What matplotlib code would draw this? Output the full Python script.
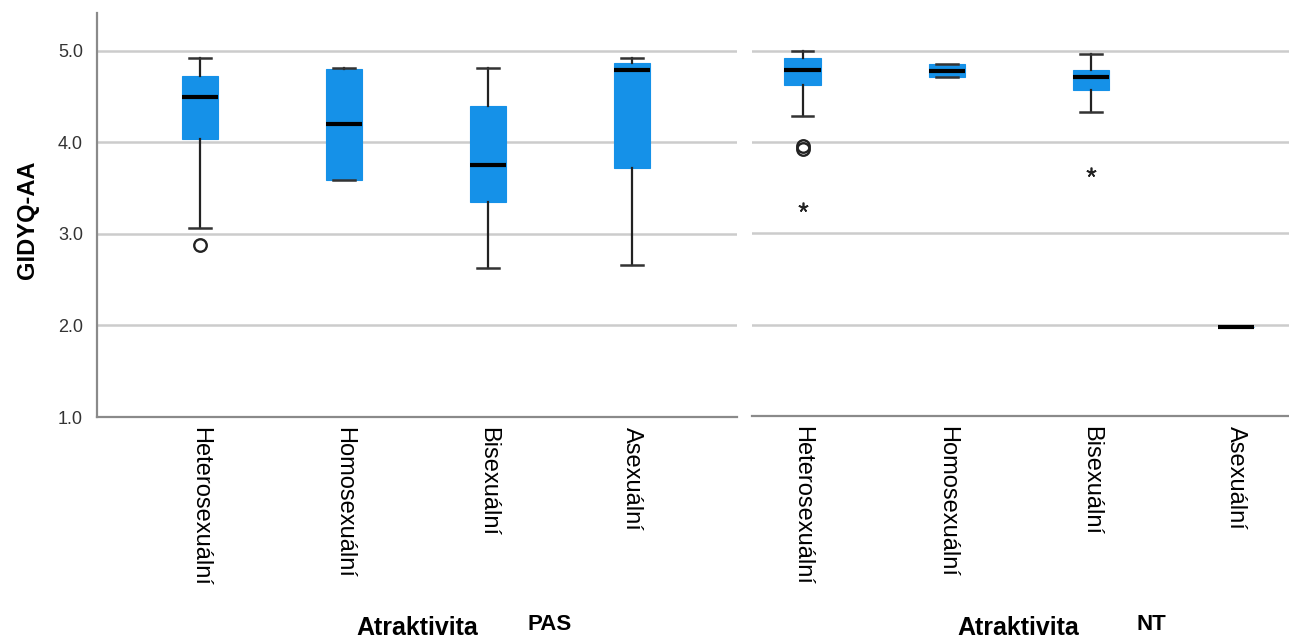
import matplotlib
matplotlib.use("Agg")
import matplotlib.pyplot as plt

# kategorie a hodnoty
categories = ["Heterosexuální", "Homosexuální", "Bisexuální", "Asexuální"]

# PAS (levý panel)
pas_whislo = [3.07, 3.59, 2.63, 2.66]
pas_q1 = [4.04, 3.59, 3.35, 3.72]
pas_med = [4.50, 4.20, 3.75, 4.79]
pas_q3 = [4.73, 4.80, 4.40, 4.87]
pas_whishi = [4.92, 4.81, 4.81, 4.92]
pas_out_circle = [[2.88], [], [], []]
pas_out_star = [[], [], [], []]

# NT (pravý panel)
nt_whislo = [4.29, 4.71, 4.33, 1.97]
nt_q1 = [4.63, 4.71, 4.57, 1.97]
nt_med = [4.79, 4.78, 4.71, 1.97]
nt_q3 = [4.92, 4.86, 4.79, 1.97]
nt_whishi = [5.00, 4.86, 4.97, 1.97]
nt_out_circle = [[3.93, 3.96], [], [], []]
nt_out_star = [[3.29], [], [3.67], []]

BLUE = "#1591e8"
GRID = "#cccccc"
SPINE = "#8a8a8a"

plt.rcParams['font.family'] = ['Liberation Sans', 'DejaVu Sans']

fig = plt.figure(figsize=(12.89, 6.4), dpi=100)
ax_l = fig.add_axes([97 / 1289, 223 / 640, 640 / 1289, 404 / 640])
ax_r = fig.add_axes([752 / 1289, 224 / 640, 537 / 1289, 403 / 640])


def draw_panel(ax, whislo, q1, med, q3, whishi, out_c, out_s, xlim):
    stats = []
    for i in range(len(categories)):
        stats.append(dict(whislo=whislo[i], q1=q1[i], med=med[i], q3=q3[i],
                          whishi=whishi[i], fliers=[]))
    pos = list(range(len(categories)))
    ax.bxp(stats, positions=pos, widths=0.25, patch_artist=True,
           showfliers=False,
           boxprops=dict(facecolor=BLUE, edgecolor=BLUE, linewidth=0.8),
           medianprops=dict(color="black", linewidth=3, solid_capstyle="butt"),
           whiskerprops=dict(color="#222222", linewidth=1.6),
           capprops=dict(color="#333333", linewidth=1.8),
           capwidths=0.15, zorder=3)
    for i in pos:
        if out_c[i]:
            ax.plot([i] * len(out_c[i]), out_c[i], 'o', mfc='none', mec='#222222',
                    mew=1.7, ms=9, zorder=4)
        if out_s[i]:
            ax.plot([i] * len(out_s[i]), out_s[i], marker=(5, 2, 0), ls='none',
                    color='#222222', mew=1.2, ms=7, zorder=4)
    ax.set_xlim(*xlim)
    ax.set_ylim(1.0, 5.415)
    ax.set_yticks([1, 2, 3, 4, 5])
    ax.yaxis.grid(True, color=GRID, linewidth=1.8, zorder=0)
    ax.set_axisbelow(True)
    ax.set_xticks(pos)
    ax.set_xticklabels(categories, rotation=270, fontsize=17, va='top', ha='center')
    ax.tick_params(axis='x', length=0, pad=7)
    for s in ["top", "right"]:
        ax.spines[s].set_visible(False)
    ax.spines["bottom"].set_color(SPINE)
    ax.spines["bottom"].set_linewidth(1.6)


draw_panel(ax_l, pas_whislo, pas_q1, pas_med, pas_q3, pas_whishi,
           pas_out_circle, pas_out_star, (-0.715, 3.73))
draw_panel(ax_r, nt_whislo, nt_q1, nt_med, nt_q3, nt_whishi,
           nt_out_circle, nt_out_star, (-0.35, 3.37))

ax_l.spines["left"].set_color(SPINE)
ax_l.spines["left"].set_linewidth(1.6)
ax_l.set_yticklabels(["1.0", "2.0", "3.0", "4.0", "5.0"], fontsize=13, color="#333333")
ax_l.tick_params(axis='y', length=0, pad=10)

ax_r.spines["left"].set_visible(False)
ax_r.tick_params(axis='y', length=0, labelleft=False)

fig.text(27 / 1289, 1 - 220 / 640, "GIDYQ-AA", rotation=90, fontsize=17,
         fontweight="bold", ha="center", va="center")

fig.text(417 / 1289, 12 / 640, "Atraktivita", fontsize=18, fontweight="bold",
         ha="center", va="center")
fig.text(550 / 1289, 16 / 640, "PAS", fontsize=16, fontweight="bold",
         ha="center", va="center")
fig.text(1018 / 1289, 12 / 640, "Atraktivita", fontsize=18, fontweight="bold",
         ha="center", va="center")
fig.text(1151 / 1289, 16 / 640, "NT", fontsize=16, fontweight="bold",
         ha="center", va="center")

fig.savefig("out.png", dpi=100)
